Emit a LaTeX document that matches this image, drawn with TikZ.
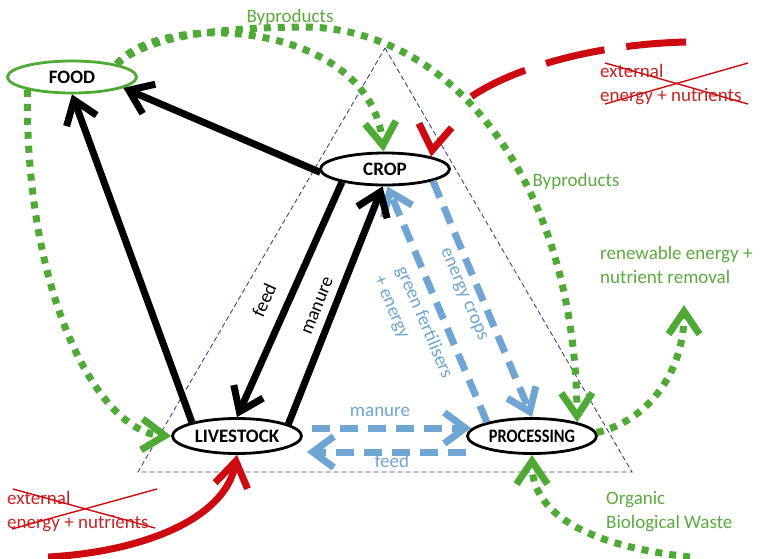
\documentclass[tikz,border=0pt]{standalone}
\usepackage{fontspec}
\usepackage{graphicx}
\setmainfont{Carlito}
\usetikzlibrary{arrows.meta,shapes.geometric,calc}
\definecolor{gline}{RGB}{78,170,52}
\definecolor{gtext}{RGB}{90,170,60}
\definecolor{bline}{RGB}{110,165,210}
\definecolor{rline}{RGB}{205,10,15}
\definecolor{rtext}{RGB}{200,35,35}
\definecolor{navy}{RGB}{60,70,140}
\begin{document}
\begin{tikzpicture}[x=1pt,y=-1pt,
  every node/.style={font=\fontsize{19}{24}\selectfont},
  ell/.style={ellipse, draw=black, line width=2.8pt, fill=white, minimum width=129pt, minimum height=32pt, inner sep=0pt, font=\fontsize{19}{24}\selectfont\bfseries},
  blk/.style={draw=black, line width=7pt, -{Straight Barb[length=22pt,width=32pt]}},
  blu/.style={draw=bline, line width=7pt, dash pattern=on 18pt off 10pt, -{Straight Barb[length=21pt,width=31pt]}},
  grn/.style={draw=gline, line width=7pt, dash pattern=on 7pt off 7pt, -{Straight Barb[length=23pt,width=31pt]}},
  redarrow/.style={draw=rline, line width=7pt, -{Straight Barb[length=25pt,width=33pt]}},
  tri/.style={draw=navy, line width=0.9pt, dash pattern=on 5pt off 3pt},
  strike/.style={draw=rline, line width=1.4pt},
  lbl/.style={inner sep=0pt},
]
\useasboundingbox (0,0) rectangle (760,558);

% dashed triangle
\draw[tri] (385,48) -- (632,472) -- (138,472) -- cycle;

% nodes
\node[ell, draw=gline] (food) at (72,77) {FOOD};
\node[ell] (crop) at (385,169) {CROP};
\node[ell, minimum height=35pt] (live) at (237,436) {LIVESTOCK};
\node[ell, minimum height=35pt] (proc) at (532,436) {\scalebox{0.86}[1]{PROCESSING}};

% free ends
\coordinate (renew) at (684,305);
\coordinate (orgstart) at (690,557);
\coordinate (redstart) at (48,557);
\coordinate (redtop) at (686,42);

% blue dashed flows
\draw[blu] (crop.-14) -- (proc.north);
\draw[blu] (proc.163) -- (crop.278);
\draw[blu] ($(live.east)+(9,-8)$) -- ($(proc.west)+(5,-8)$);
\draw[blu] ($(proc.west)+(0,16)$) -- ($(live.east)+(4,16)$);

% black flows
\draw[blk] (crop.183) -- (food.-12);
\draw[blk] (live.163) -- (food.south);
\draw[blk] (crop.197) -- (live.north);
\draw[blk] (live.13) -- (crop.262);

% green dotted flows
\draw[grn] (food.16) .. controls (160,10) and (370,20) .. (crop.95);
\draw[grn] (food.16) .. controls (150,35) and (220,28) .. (300,27) .. controls (450,25) and (575,180) .. (proc.17);
\draw[grn] (food.196) .. controls (25,300) and (100,432) .. (live.west);
\draw[grn] (proc.3) .. controls (650,420) and (684,370) .. (renew);
\draw[grn] (orgstart) .. controls (580,545) and (532,510) .. (proc.south);

% red flows
\draw[redarrow] (redstart) .. controls (140,552) and (225,520) .. (live.south);
\draw[redarrow, dash pattern=on 60pt off 22pt on 60pt off 22pt on 60pt off 400pt] (redtop) .. controls (560,45) and (440,90) .. (crop.15);

% labels on black arrows
\node[rotate=66] (lfeed) at (264,300) {feed};
\node[rotate=68] (lmanure) at (318,306) {manure};

% labels on blue arrows
\node[rotate=-67, text=bline] (lenergy) at (463,295) {energy crops};
\node[rotate=-67, text=bline, align=left] (lgreen) at (413,327) {green fertilisers\\+ energy};
\node[text=bline] (lbman) at (380,412) {manure};
\node[text=bline] (lbfeed) at (392,461) {feed};

% green labels
\node[text=gtext] (lby1) at (290,17) {Byproducts};
\node[text=gtext] (lby2) at (576,181) {Byproducts};
\node[text=gtext, lbl, anchor=west, align=left] (lrenew) at (600,265) {renewable energy +\\nutrient removal};
\node[text=gtext, lbl, anchor=west, align=left] (lorg) at (606,512) {Organic\\Biological Waste};

% red labels (struck through)
\node[text=rtext, lbl, anchor=west, align=left] (lext1) at (600,85) {external\\energy + nutrients};
\draw[strike] (605,63) -- (748,104);
\draw[strike] (605,104) -- (748,63);
\node[text=rtext, lbl, anchor=west, align=left] (lext2) at (7,512) {external\\energy + nutrients};
\draw[strike] (13,489) -- (155,528);
\draw[strike] (12,529) -- (157,489);
\end{tikzpicture}
\end{document}
